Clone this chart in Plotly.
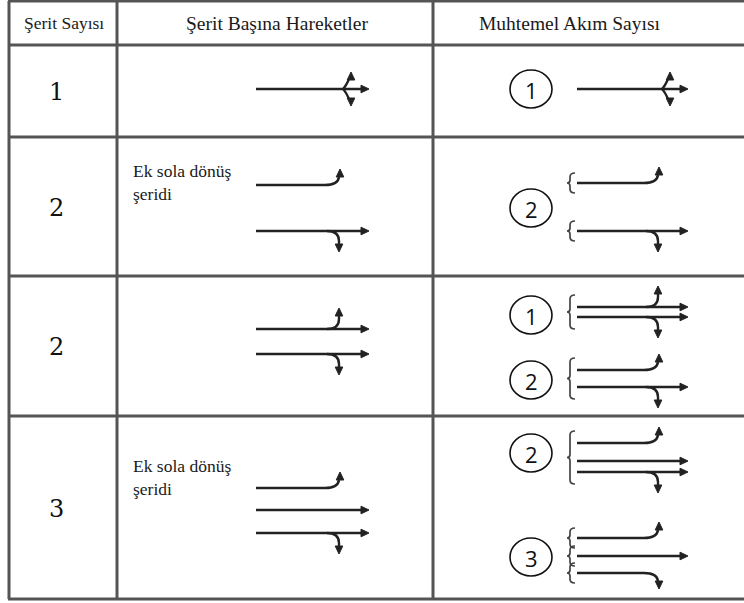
import plotly.graph_objects as go

# ---------------- data ----------------
headers = ["Şerit Sayısı", "Şerit Başına Hareketler", "Muhtemel Akım Sayısı"]
lane_counts = ["1", "2", "2", "3"]
lane_notes = ["", "Ek sola dönüş<br>şeridi", "", "Ek sola dönüş<br>şeridi"]
# movements per lane (L = left turn, T = through, R = right turn)
lane_moves = [["LTR"], ["L", "TR"], ["LT", "TR"], ["L", "T", "TR"]]
flow_counts = [[1], [2], [1, 2], [2, 3]]
# per flow: brace groups of lanes
flow_groups = [
    [[["LTR"]]],
    [[["L"], ["TR"]]],
    [[["LT", "TR"]], [["L", "TR"]]],
    [[["L", "T", "TR"]], [["L"], ["T"], ["R"]]],
]
flow_braced = [False, True, True, True]

# ---------------- layout (pixel positions) ----------------
W, H = 744, 603
row_edges = [1, 45, 137, 276, 416, 599]
col_edges = [9, 117, 433]
header_x = [64, 277, 570]
header_size = [17.5, 19.5, 19.5]
number_x = 56
col2_geom = dict(x0=256, x1=369, xt=339)
col3_geom = dict(x0=577, x1=688, xt=658)
circle_x = 531
col2_lane_y = [[89], [185, 231], [329, 354], [488, 510, 533]]
col3_lane_y = [
    [[[89]]],
    [[[183], [231]]],
    [[[307, 317]], [[370, 387]]],
    [[[443, 461, 472]], [[538], [556], [573]]],
]
circle_y = [[89], [208], [315, 380], [453, 557]]
note_y = [None, 182, None, 477]

GRID = "#555555"
INK = "#222222"
SERIF = "Liberation Serif, Times New Roman, DejaVu Serif, serif"

fig = go.Figure()
shapes = []
annotations = []


def seg(path, width=2.4, color=INK):
    shapes.append(dict(type="path", path=path, xref="x", yref="y",
                       line=dict(color=color, width=width)))


def tri(tx, ty, d, L=8, Wd=3.8):
    if d == "r":
        p = f"M{tx},{ty} L{tx-L},{ty-Wd} L{tx-L},{ty+Wd} Z"
    elif d == "u":
        p = f"M{tx},{ty} L{tx-Wd},{ty+L} L{tx+Wd},{ty+L} Z"
    else:
        p = f"M{tx},{ty} L{tx-Wd},{ty-L} L{tx+Wd},{ty-L} Z"
    shapes.append(dict(type="path", path=p, xref="x", yref="y",
                       fillcolor=INK, line=dict(color=INK, width=1)))


def lane(moves, y, g):
    x0, x1, xt = g["x0"], g["x1"], g["xt"]
    if moves == "LTR":
        xb = x1 - 26
        xf = x1 - 20
        seg(f"M{x0},{y} L{x1-6},{y}")
        tri(x1, y, "r")
        seg(f"M{xb},{y} Q{xf-3},{y-3} {xf},{y-10}")
        tri(xf + 2, y - 17, "u", L=8)
        seg(f"M{xb},{y} Q{xf-3},{y+3} {xf},{y+10}")
        tri(xf + 2, y + 17, "d", L=8)
        return
    if "T" in moves:
        seg(f"M{x0},{y} L{x1-6},{y}")
        tri(x1, y, "r")
        if "L" in moves:
            seg(f"M{xt-12},{y} Q{xt},{y} {xt},{y-10} L{xt},{y-13}")
            tri(xt, y - 21, "u")
        if "R" in moves:
            seg(f"M{xt-12},{y} Q{xt},{y} {xt},{y+10} L{xt},{y+13}")
            tri(xt, y + 21, "d")
    elif moves == "L":
        seg(f"M{x0},{y} L{xt-14},{y} Q{xt-1},{y} {xt},{y-8}")
        tri(xt + 1, y - 16, "u")
    elif moves == "R":
        seg(f"M{x0},{y} L{xt-14},{y} Q{xt-1},{y} {xt},{y+8}")
        tri(xt + 1, y + 16, "d")


def brace(x, y0, y1):
    ym = (y0 + y1) / 2
    xr = x + 5
    p = (f"M{xr},{y0} Q{x},{y0} {x},{y0+4} L{x},{ym-3} Q{x},{ym} {x-3},{ym} "
         f"Q{x},{ym} {x},{ym+3} L{x},{y1-4} Q{x},{y1} {xr},{y1}")
    seg(p, width=1.7, color="#444444")


# grid
for y in row_edges:
    shapes.append(dict(type="line", x0=col_edges[0] - 1, x1=W, y0=y, y1=y,
                       xref="x", yref="y", line=dict(color=GRID, width=3)))
for x in col_edges:
    shapes.append(dict(type="line", x0=x, x1=x, y0=row_edges[0], y1=row_edges[-1],
                       xref="x", yref="y", line=dict(color=GRID, width=3)))

# headers
for txt, hx, hs in zip(headers, header_x, header_size):
    annotations.append(dict(x=hx, y=(row_edges[0] + row_edges[1]) / 2, text=txt,
                            showarrow=False, xref="x", yref="y",
                            font=dict(family=SERIF, size=hs, color="#1a1a1a")))

for r in range(4):
    ymid = (row_edges[r + 1] + row_edges[r + 2]) / 2
    # lane count
    annotations.append(dict(x=number_x, y=ymid + 1, text=lane_counts[r], showarrow=False,
                            xref="x", yref="y",
                            font=dict(family="DejaVu Serif, serif", size=24, color="#111111")))
    # note
    if lane_notes[r]:
        annotations.append(dict(x=131, y=note_y[r], text=lane_notes[r], showarrow=False,
                                xref="x", yref="y", xanchor="left", align="left",
                                yanchor="middle",
                                font=dict(family=SERIF, size=17.5, color="#1a1a1a")))
    # column 2 lanes
    for mv, ly in zip(lane_moves[r], col2_lane_y[r]):
        lane(mv, ly, col2_geom)
    # column 3 flows
    for f, cnt in enumerate(flow_counts[r]):
        cy = circle_y[r][f]
        shapes.append(dict(type="circle", xref="x", yref="y",
                           x0=circle_x - 21, x1=circle_x + 21, y0=cy - 19, y1=cy + 19,
                           line=dict(color="#111111", width=1.6)))
        annotations.append(dict(x=circle_x, y=cy + 1, text=str(cnt), showarrow=False,
                                xref="x", yref="y",
                                font=dict(family="Open Sans", size=22, color="#111111")))
        for grp, gy in zip(flow_groups[r][f], col3_lane_y[r][f]):
            for mv, ly in zip(grp, gy):
                lane(mv, ly, col3_geom)
            if flow_braced[r]:
                if len(gy) == 1:
                    brace(570, gy[0] - 10, gy[0] + 10)
                else:
                    brace(570, gy[0] - 12, gy[-1] + 12)

fig.update_layout(
    width=W, height=H,
    margin=dict(l=0, r=0, t=0, b=0),
    paper_bgcolor="white", plot_bgcolor="white",
    xaxis=dict(range=[0, W], visible=False, fixedrange=True),
    yaxis=dict(range=[H, 0], visible=False, fixedrange=True),
    shapes=shapes, annotations=annotations, showlegend=False,
)
fig.write_html("out.html", config={"displayModeBar": False},
               post_script="document.body.style.margin='0';document.body.style.overflow='hidden';")
